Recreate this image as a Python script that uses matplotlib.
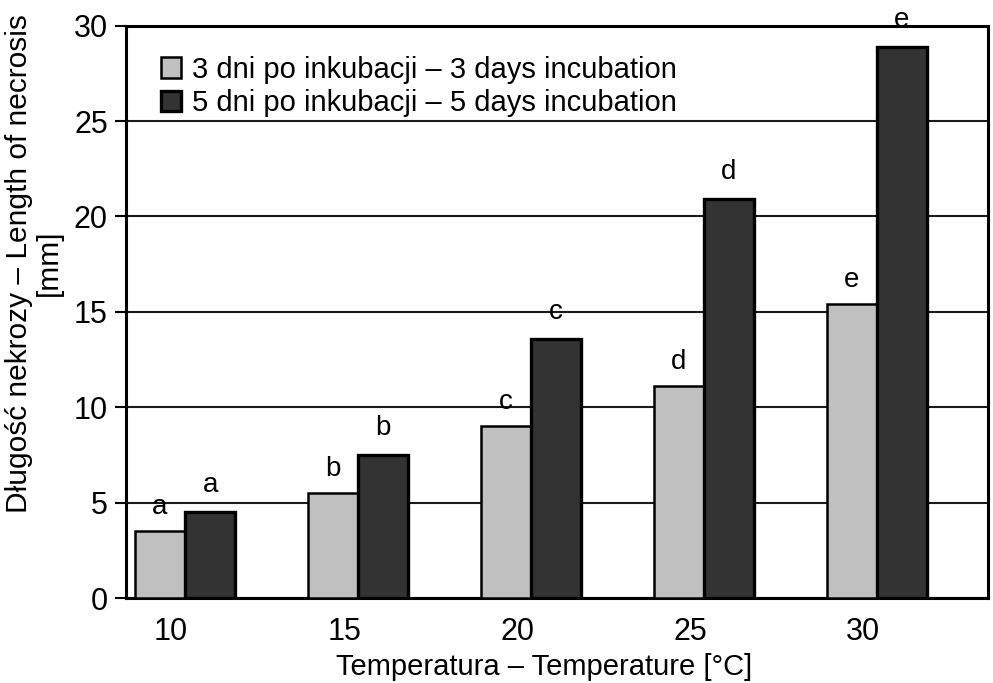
import matplotlib
matplotlib.use("Agg")
import matplotlib.pyplot as plt
import numpy as np

plt.rcParams['font.family'] = ['Liberation Sans', 'DejaVu Sans']

temps = ["10", "15", "20", "25", "30"]
days3 = [3.5, 5.5, 9.0, 11.1, 15.4]
days5 = [4.5, 7.5, 13.6, 20.9, 28.9]
letters3 = ["a", "b", "c", "d", "e"]
letters5 = ["a", "b", "c", "d", "e"]
label3 = "3 dni po inkubacji – 3 days incubation"
label5 = "5 dni po inkubacji – 5 days incubation"

fig = plt.figure(figsize=(9.93, 6.83), dpi=100)
ax = fig.add_axes([0.1269, 0.1244, 0.868, 0.838])

x = np.arange(len(temps))
w = 0.29
ax.bar(x - w/2, days3, w, color="#c0c0c0", edgecolor="black", linewidth=1.8, zorder=3, label=label3)
ax.bar(x + w/2, days5, w, color="#333333", edgecolor="black", linewidth=2.4, zorder=3, label=label5)

for xi, v, t in zip(x - w/2, days3, letters3):
    ax.annotate(t, (xi, v), xytext=(0, 8), textcoords="offset points", ha="center", va="bottom", fontsize=20)
for xi, v, t in zip(x + w/2, days5, letters5):
    ax.annotate(t, (xi, v), xytext=(0, 10), textcoords="offset points", ha="center", va="bottom", fontsize=20, annotation_clip=False)

ax.set_ylim(0, 30)
ax.set_xlim(-0.341, 4.642)
ax.set_yticks(range(0, 31, 5))
ax.set_xticks(x - 0.08)
ax.set_xticklabels(temps)
ax.yaxis.grid(True, color="#1a1a1a", linewidth=1.5, zorder=0)
ax.set_axisbelow(True)
ax.tick_params(axis="x", length=0, labelsize=22, pad=14)
ax.tick_params(axis="y", length=8, width=1.5, labelsize=22, pad=5, direction="out")
for s in ax.spines.values():
    s.set_linewidth(2.2)
    s.set_color("black")

ax.set_xlabel("Temperatura – Temperature [°C]", fontsize=21, labelpad=4, x=0.485)
ax.set_ylabel("Długość nekrozy – Length of necrosis\n[mm]", fontsize=21.5, labelpad=8, linespacing=1.1, y=0.585)

ax.legend(loc="upper left", bbox_to_anchor=(0.027, 0.968), frameon=False, fontsize=21,
          handlelength=0.7, handleheight=0.7, handletextpad=0.35, labelspacing=0.2, borderaxespad=0)

fig.savefig("out.png", dpi=100)
